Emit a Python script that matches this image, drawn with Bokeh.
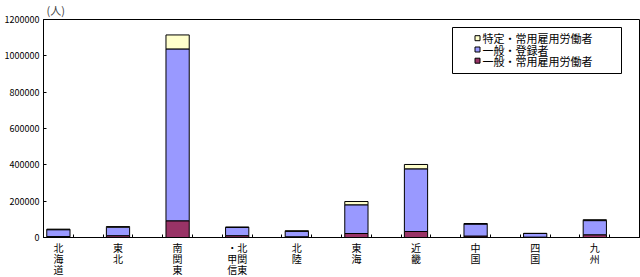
from bokeh.plotting import figure
from bokeh.models import (ColumnDataSource, FixedTicker, NumeralTickFormatter,
                          Range1d, BoxAnnotation)
from bokeh.core.properties import value
from bokeh.embed import file_html
from bokeh.resources import INLINE

regions = ["北海道", "東北", "南関東", "北関東・甲信", "北陸", "東海", "近畿", "中国", "四国", "九州"]
tick_labels = ["北\n海\n道", "東\n北", "南\n関\n東", "・北\n甲関\n信東", "北\n陸",
               "東\n海", "近\n畿", "中\n国", "四\n国", "九\n州"]
ippan_joyo = [5000, 10000, 92000, 10000, 4000, 22000, 33000, 8000, 2000, 15000]
ippan_toroku = [38000, 47000, 946000, 45000, 30000, 158000, 345000, 66000, 20000, 78000]
tokutei_joyo = [3000, 3000, 77000, 3000, 3000, 18000, 24000, 3000, 1000, 5000]
series_names = ["一般・常用雇用労働者", "一般・登録者", "特定・常用雇用労働者"]
series_keys = ["ippan_joyo", "ippan_toroku", "tokutei_joyo"]
colors = ["#993366", "#9999FF", "#FFFFCC"]
y_ticks = [0, 200000, 400000, 600000, 800000, 1000000, 1200000]

FONT = "Noto Sans CJK JP"

# frame geometry (pixels)
FL, FT, FW, FH = 43, 19, 596, 218
XMAX, YMAX = 20, 1200000


def px_x(px):
    return (px - FL) / FW * XMAX


def px_y(py):
    return (FT + FH - py) / FH * YMAX


xs = [2 * i + 0.5 for i in range(len(regions))]
source = ColumnDataSource(dict(x=xs, region=regions, ippan_joyo=ippan_joyo,
                               ippan_toroku=ippan_toroku, tokutei_joyo=tokutei_joyo))

p = figure(frame_width=FW, frame_height=FH, output_backend="svg",
           toolbar_location=None, x_range=Range1d(0, XMAX),
           y_range=Range1d(0, YMAX),
           min_border_left=FL, min_border_right=1, min_border_top=FT,
           min_border_bottom=40)
p.background_fill_color = "white"
p.border_fill_color = "white"
p.outline_line_color = "black"
p.outline_line_width = 1
p.xgrid.visible = False
p.ygrid.visible = False

renderers = p.vbar_stack(series_keys, x="x", width=0.78, source=source,
                         fill_color=colors, line_color="black", line_width=1)

# title "(人)"
p.title.text = "(人)"
p.title.align = "left"
p.title.offset = 3
p.title.text_font = FONT
p.title.text_font_size = "11px"
p.title.text_font_style = "normal"
p.title.standoff = 0
p.title.vertical_align = "top"

# x axis
xa = p.xaxis[0]
xa.ticker = FixedTicker(ticks=xs, minor_ticks=list(range(0, 21)))
xa.major_label_overrides = {x: lab for x, lab in zip(xs, tick_labels)}
xa.major_tick_in = 0
xa.major_tick_out = 0
xa.minor_tick_in = 3
xa.minor_tick_out = 0
xa.minor_tick_line_color = "black"
xa.axis_line_color = "black"
xa.major_label_text_font = FONT
xa.major_label_text_font_size = "10px"
xa.major_label_text_line_height = 0.76
xa.major_label_text_color = "black"
xa.major_label_standoff = 2

# y axis
ya = p.yaxis[0]
ya.ticker = FixedTicker(ticks=y_ticks)
ya.formatter = NumeralTickFormatter(format="0")
ya.major_tick_in = 3
ya.major_tick_out = 0
ya.minor_tick_in = 0
ya.minor_tick_out = 0
ya.major_tick_line_color = "black"
ya.axis_line_color = "black"
ya.major_label_text_font = FONT
ya.major_label_text_font_size = "9px"
ya.major_label_text_color = "black"
ya.major_label_standoff = 4

# legend (drawn manually for compact rows)
box = BoxAnnotation(left=px_x(452), right=px_x(621), top=px_y(27), bottom=px_y(73),
                    fill_color="white", fill_alpha=1.0, line_color="black",
                    line_width=1, line_alpha=1.0, level="annotation")
p.add_layout(box)
order = [2, 1, 0]
row_py = [37.7, 49.0, 60.2]
leg_src = ColumnDataSource(dict(
    x=[px_x(477)] * 3,
    tx=[px_x(482)] * 3,
    y=[px_y(v) for v in row_py],
    color=[colors[i] for i in order],
    label=[series_names[i] for i in order],
))
p.scatter(x="x", y="y", source=leg_src, marker="square", size=5,
          fill_color="color", line_color="black", line_width=1, level="overlay")
p.text(x="tx", y="y", text="label", source=leg_src, text_font=value(FONT),
       text_font_size="11px", text_baseline="middle", text_align="left",
       text_color="black", level="overlay")

open("out.html", "w").write(file_html(p, INLINE))
